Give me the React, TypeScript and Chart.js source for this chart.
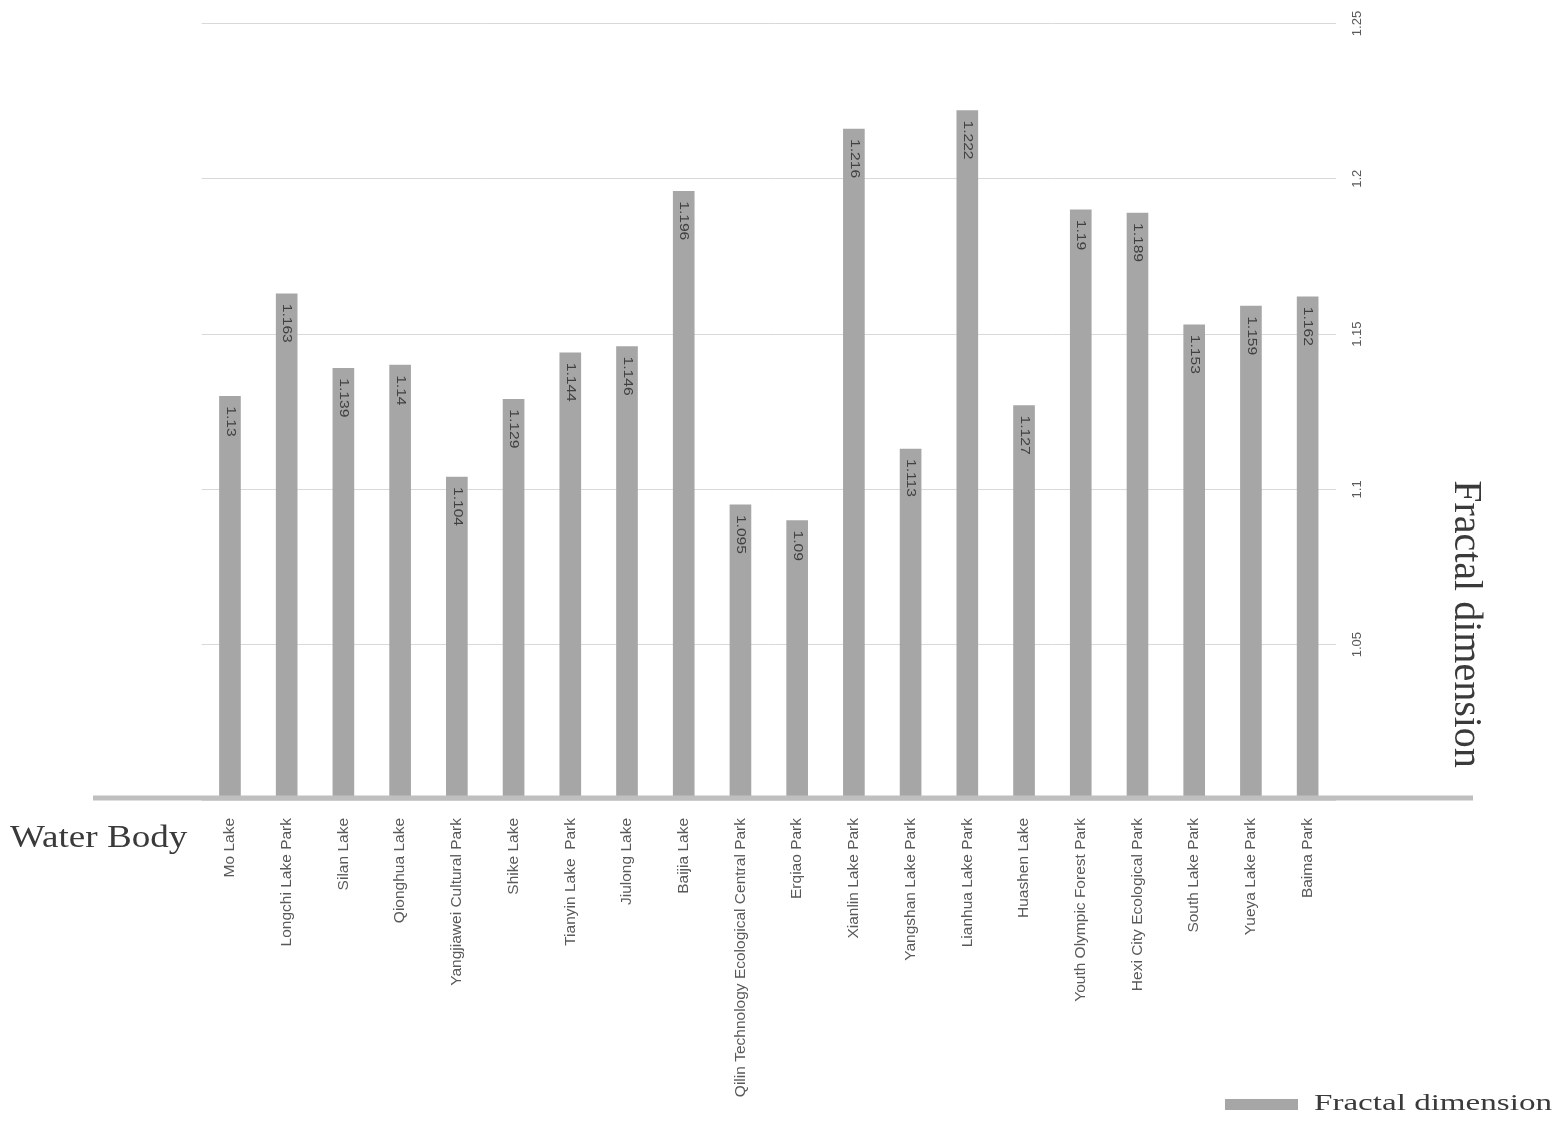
import React, { useEffect, useRef } from "react";
import { Chart, registerables } from "chart.js";

Chart.register(...registerables);

const categories = [
  "Mo Lake",
  "Longchi Lake Park",
  "Silan Lake",
  "Qionghua Lake",
  "Yangjiawei Cultural Park",
  "Shike Lake",
  "Tianyin Lake  Park",
  "Jiulong Lake",
  "Baijia Lake",
  "Qilin Technology Ecological Central Park",
  "Erqiao Park",
  "Xianlin Lake Park",
  "Yangshan Lake Park",
  "Lianhua Lake Park",
  "Huashen Lake",
  "Youth Olympic Forest Park",
  "Hexi City Ecological Park",
  "South Lake Park",
  "Yueya Lake Park",
  "Baima Park",
];

const fractalValues = [
  1.13, 1.163, 1.139, 1.14, 1.104, 1.129, 1.144, 1.146, 1.196, 1.095, 1.09,
  1.216, 1.113, 1.222, 1.127, 1.19, 1.189, 1.153, 1.159, 1.162,
];

const yTickValues = [1.0, 1.05, 1.1, 1.15, 1.2, 1.25];
const yTickLabels = ["", "1.05", "1.1", "1.15", "1.2", "1.25"];

const seriesName = "Fractal dimension";
const xTitle = "Water Body";
const yTitle = "Fractal dimension";

const BAR_COLOR = "#a6a6a6";

const decorPlugin = {
  id: "decor",
  afterDatasetsDraw(chart: any) {
    const ctx = chart.ctx;
    const meta = chart.getDatasetMeta(0);
    ctx.save();
    ctx.fillStyle = "#404040";
    ctx.font = "12px 'Liberation Sans', Arial, sans-serif";
    ctx.textAlign = "left";
    ctx.textBaseline = "middle";
    meta.data.forEach((bar: any, i: number) => {
      const v = fractalValues[i];
      ctx.save();
      ctx.translate(bar.x, bar.y + 10);
      ctx.rotate(Math.PI / 2);
      ctx.scale(1.3, 1);
      ctx.fillText(String(v), 0, 0);
      ctx.restore();
    });
    ctx.restore();
  },
  afterDraw(chart: any) {
    const ctx = chart.ctx;
    const ys = chart.scales.y;
    const area = chart.chartArea;
    ctx.save();
    ctx.fillStyle = "#595959";
    ctx.font = "13px 'Liberation Sans', Arial, sans-serif";
    ctx.textAlign = "center";
    ctx.textBaseline = "middle";
    yTickValues.forEach((v, i) => {
      const lbl = yTickLabels[i];
      if (!lbl) return;
      const py = ys.getPixelForValue(v);
      ctx.save();
      ctx.translate(area.right + 21, py);
      ctx.rotate(-Math.PI / 2);
      ctx.fillText(lbl, 0, 0);
      ctx.restore();
    });
    const by = ys.getPixelForValue(1.0) - 2;
    ctx.strokeStyle = "#bfbfbf";
    ctx.lineWidth = 5;
    ctx.beginPath();
    ctx.moveTo(93, by);
    ctx.lineTo(1473, by);
    ctx.stroke();
    ctx.fillStyle = "#3a3a3a";
    ctx.font = "40px 'Liberation Serif', 'Times New Roman', serif";
    ctx.textAlign = "center";
    ctx.textBaseline = "middle";
    ctx.save();
    ctx.translate(1465, 624);
    ctx.rotate(Math.PI / 2);
    ctx.fillText(yTitle, 0, 0);
    ctx.restore();
    ctx.save();
    ctx.font = "32px 'Liberation Serif', 'Times New Roman', serif";
    ctx.textAlign = "left";
    ctx.textBaseline = "alphabetic";
    ctx.translate(10, 847);
    ctx.scale(1.16, 1);
    ctx.fillText(xTitle, 0, 0);
    ctx.restore();
    ctx.fillStyle = BAR_COLOR;
    ctx.fillRect(1225, 1099, 73, 11);
    ctx.save();
    ctx.fillStyle = "#3a3a3a";
    ctx.font = "24px 'Liberation Serif', 'Times New Roman', serif";
    ctx.textAlign = "left";
    ctx.textBaseline = "alphabetic";
    ctx.translate(1314, 1110);
    const w = ctx.measureText(seriesName).width;
    ctx.scale(238 / w, 1);
    ctx.fillText(seriesName, 0, 0);
    ctx.restore();
    ctx.restore();
  },
};

export default function App() {
  const ref = useRef<HTMLCanvasElement | null>(null);
  useEffect(() => {
    if (!ref.current) return;
    const chart = new Chart(ref.current, {
      type: "bar",
      data: {
        labels: categories,
        datasets: [
          {
            label: seriesName,
            data: fractalValues,
            backgroundColor: BAR_COLOR,
            barThickness: 21,
            base: 1.0,
          } as any,
        ],
      },
      options: {
        responsive: false,
        animation: false,
        devicePixelRatio: 1,
        layout: { padding: { left: 201.6, top: 23.5, right: 0, bottom: 0 } },
        plugins: {
          legend: { display: false },
          tooltip: { enabled: false },
          title: { display: false },
        },
        scales: {
          x: {
            position: "bottom",
            grid: { display: false, drawTicks: false },
            border: { display: false },
            ticks: {
              autoSkip: false,
              minRotation: 90,
              maxRotation: 90,
              padding: 18,
              color: "#595959",
              font: { family: "'Liberation Sans', Arial, sans-serif", size: 15.5 },
            },
            afterFit: (s: any) => {
              s.height = 324;
            },
          },
          y: {
            position: "right",
            min: 1.0,
            max: 1.25,
            grid: { color: "#d9d9d9", lineWidth: 1, drawTicks: false },
            border: { display: false },
            ticks: { display: false, stepSize: 0.05 },
            afterFit: (s: any) => {
              s.width = 223;
            },
          },
        },
      },
      plugins: [decorPlugin],
    });
    return () => chart.destroy();
  }, []);
  return (
    <div style={{ position: "absolute", left: 0, top: 0, width: 1559, height: 1124, background: "#fff" }}>
      <canvas ref={ref} width={1559} height={1124} style={{ width: 1559, height: 1124, display: "block" }} />
    </div>
  );
}
